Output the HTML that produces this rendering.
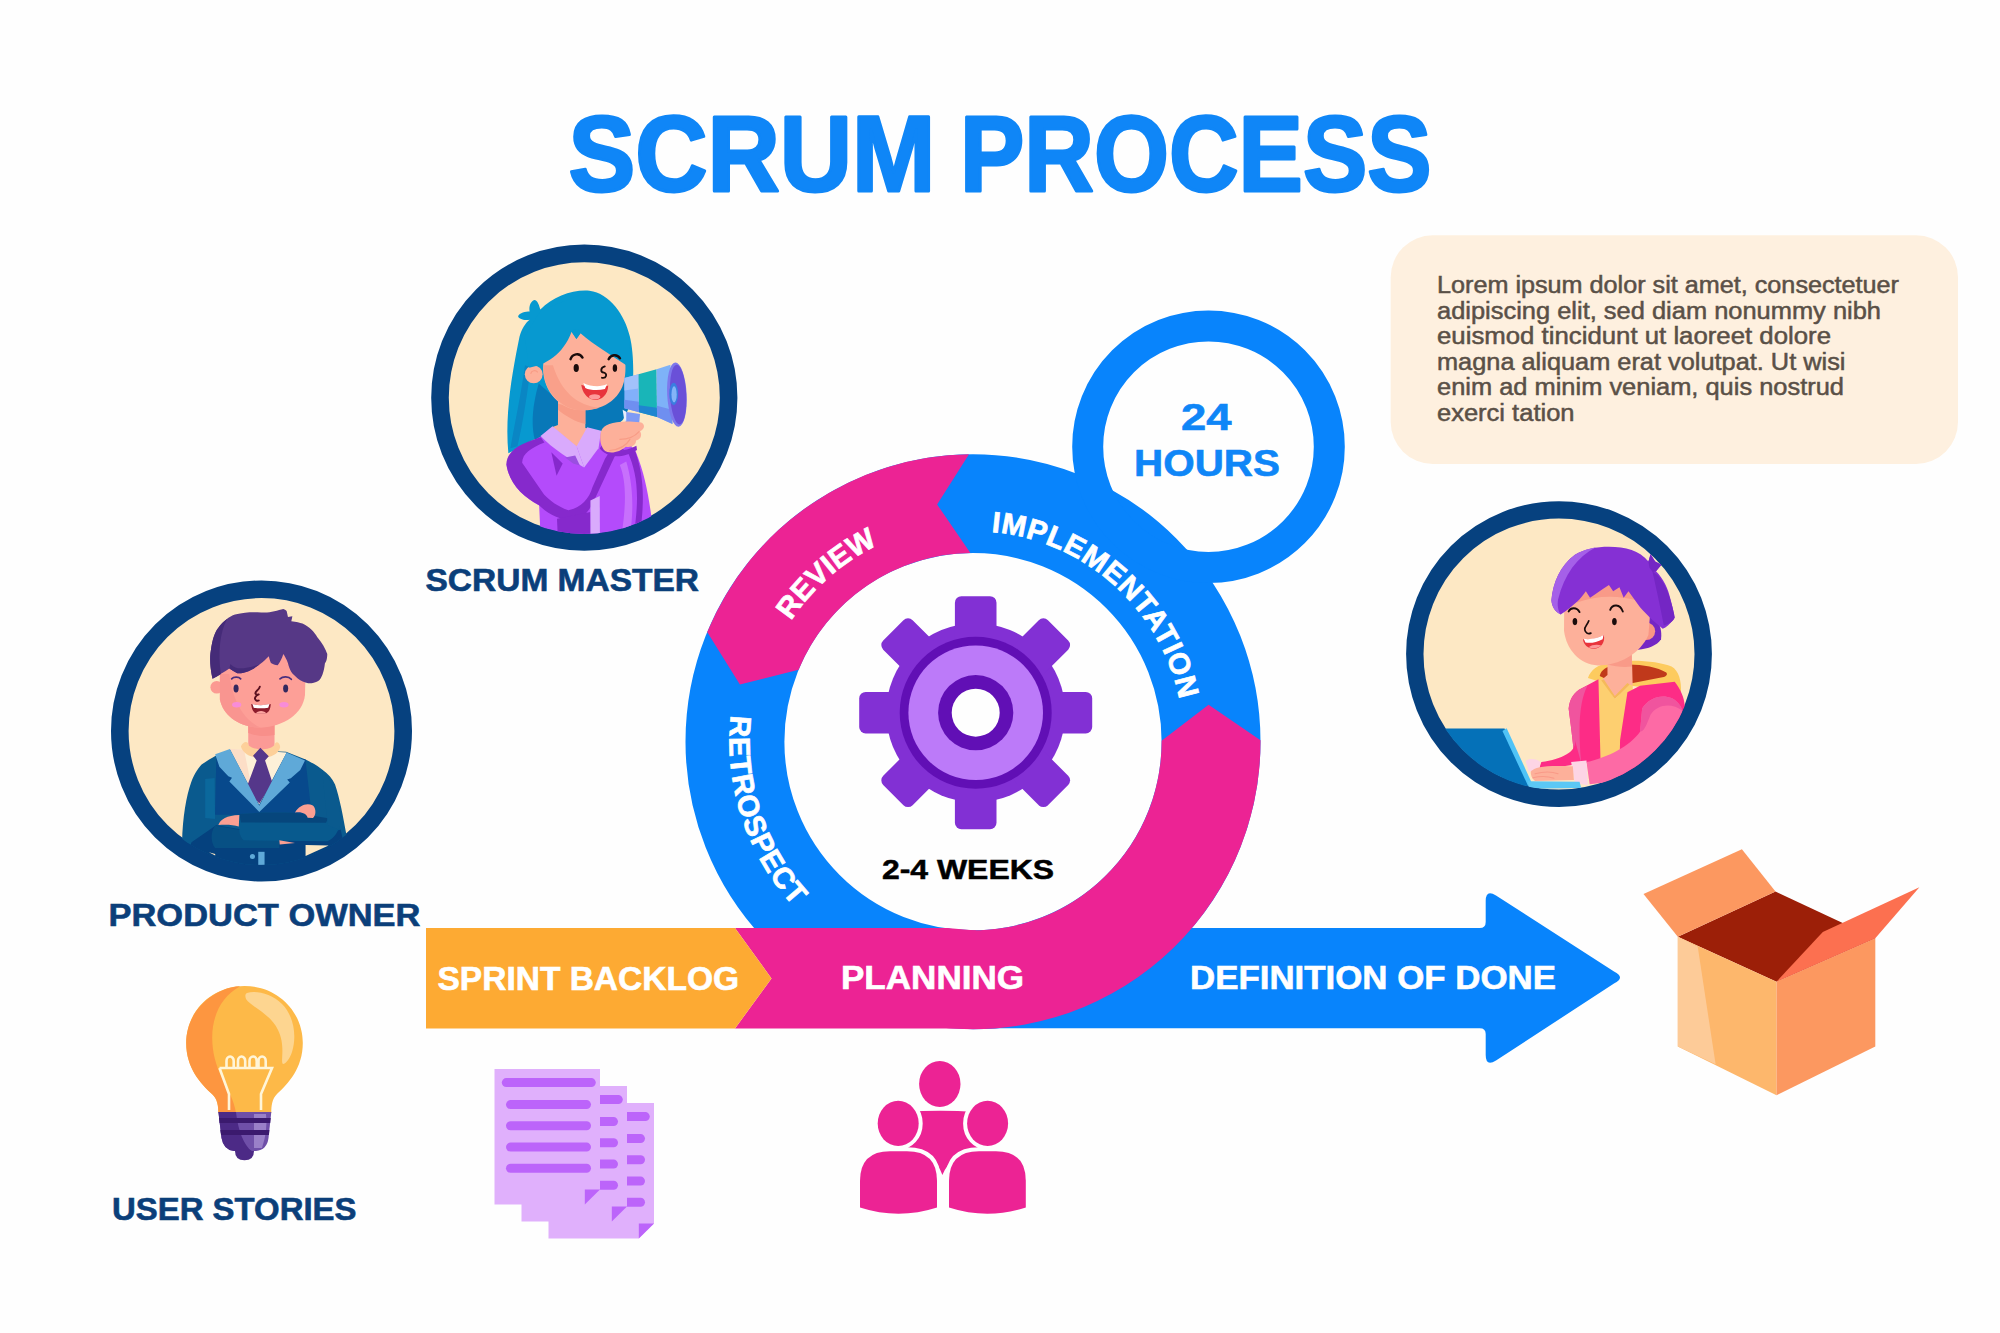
<!DOCTYPE html>
<html lang="en">
<head>
<meta charset="utf-8">
<title>Scrum Process</title>
<style>
html,body{margin:0;padding:0;background:#fff;}
body{width:2000px;height:1333px;overflow:hidden;font-family:"Liberation Sans",sans-serif;}
svg{display:block;}
text{font-family:"Liberation Sans",sans-serif;}
.b{font-weight:700;}
</style>
</head>
<body>
<svg width="2000" height="1333" viewBox="0 0 2000 1333">
<rect width="2000" height="1333" fill="#fefefe"/>
<!-- text box -->
<rect x="1390.7" y="235.2" width="567.3" height="228.8" rx="42" ry="42" fill="#fef0df"/>
<!-- definition of done arrow (blue) -->
<path d="M1100 928 H1479.7 Q1485.7 928 1485.7 922 V901 Q1485.7 889 1496 895.5 L1614 971.5 Q1626 977.5 1614 983.5 L1496 1060.5 Q1485.7 1067 1485.7 1055 V1034 Q1485.7 1028.3 1479.7 1028.3 H985 Z" fill="#0884fc"/>
<!-- ring -->
<circle cx="973.0" cy="741.7" r="238.05" fill="none" stroke="#0884fc" stroke-width="98.90"/>
<circle cx="1208.5" cy="446.7" r="120.8" fill="none" stroke="#0884fc" stroke-width="31"/>
<path d="M969.0 454.2 A287.5 287.5 0 0 0 707.2 632.1 L739.9 684.5 L798.6 669.8 A188.6 188.6 0 0 1 970.4 553.1 L937.1 504.4 Z" fill="#ec2394"/>
<path d="M933.0 1026.4 A287.5 287.5 0 0 0 1260.5 740.2 L1208.6 704.8 L1161.6 740.7 A188.6 188.6 0 0 1 946.8 928.5 L939.8 977.9 Z" fill="#ec2394"/>
<!-- planning bar pink -->
<path d="M735 928 H947 L976 930.5 V1028.5 H735 L771.5 978.5 Z" fill="#ec2394"/>
<!-- sprint backlog orange -->
<path d="M426 928 H735 L771.5 978.5 L735 1028.5 H426 Z" fill="#fdaa33"/>
<!-- avatar circles -->
<circle cx="584.3" cy="397.7" r="144.3" fill="#fde8c4" stroke="#06417f" stroke-width="17.6"/>
<circle cx="261.5" cy="731" r="141.7" fill="#fde8c4" stroke="#06417f" stroke-width="17.6"/>
<circle cx="1559" cy="654.1" r="144.2" fill="#fde8c4" stroke="#06417f" stroke-width="17.4"/>
<defs>
<clipPath id="c1"><circle cx="584.3" cy="397.7" r="136.2"/></clipPath>
<clipPath id="c2"><circle cx="261.5" cy="731" r="134"/></clipPath>
<clipPath id="c3"><circle cx="1559" cy="654.2" r="136"/></clipPath>
</defs>
<!-- SCRUM MASTER girl : coords in zoom space (origin 480,270 scale 1/4.936) -->
<g clip-path="url(#c1)">
<g transform="translate(480 270) scale(0.20259)">
<!-- hair back -->
<path d="M140 905 C120 700 165 480 195 330 C205 290 225 260 245 245 C215 250 190 240 188 228 C195 212 225 205 245 205 C240 180 250 155 268 148 C285 150 292 175 298 195 C360 130 460 95 540 102 C640 115 715 220 740 330 C762 420 760 560 745 640 L720 720 L650 790 L520 800 L380 790 C330 810 250 840 190 880 Z" fill="#0799d0"/>
<path d="M505 640 L745 540 L748 650 L705 740 L640 795 L515 800 Z" fill="#0878b8"/>
<path d="M290 560 C255 680 245 800 290 890 L380 800 L392 650 Z" fill="#0878b8"/>
<path d="M222 470 C205 600 175 740 150 880 L185 870 C215 740 235 600 250 480 Z" fill="#0a86c4"/>
<!-- body -->
<path d="M135 960 C150 900 250 850 300 822 L352 778 L600 800 C680 810 740 850 770 900 C810 1000 830 1100 845 1210 L850 1340 L300 1340 L292 1163 C215 1120 145 1060 130 958 Z" fill="#b44bfb"/>
<!-- neck -->
<path d="M385 640 L520 670 L520 780 L560 786 L477 872 L358 775 L385 765 Z" fill="#fdb09a"/>
<path d="M385 660 L520 690 L520 760 C470 750 420 720 385 690 Z" fill="#f89c86"/>
<!-- collar -->
<path d="M299 820 L358 771 L477 870 L514 975 C450 940 360 885 299 820 Z" fill="#d9aafc"/>
<path d="M529 776 L598 793 L585 880 L514 975 L477 870 Z" fill="#d9aafc"/>
<path d="M420 925 L470 916 L493 965 L460 955 Z" fill="#9a4fe0"/>
<!-- arm dark band -->
<path d="M130 958 C145 1060 215 1120 290 1160 C330 1200 389 1233 451 1234 C513 1230 545 1180 565 1134 L664 922 L712 884 L650 880 L617 932 L555 1072 C540 1130 493 1176 436 1186 C390 1170 345 1140 316 1108 L208 952 C210 905 250 880 318 852 L300 826 C180 862 134 900 130 958 Z" fill="#8629cc"/>
<path d="M352 900 L378 1015 L408 955 Z" fill="#8629cc"/>
<path d="M380 1228 L545 1195 L548 1340 L385 1340 Z" fill="#8629cc"/>
<path d="M545 1138 L591 1115 L592 1340 L545 1340 Z" fill="#d9aafc"/>
<path d="M591 880 C620 920 690 940 775 888 L772 868 C700 905 640 895 602 866 Z" fill="#8629cc"/>
<path d="M690 962 C722 1040 722 1150 700 1300 L742 1300 C762 1150 750 1040 722 945 Z" fill="#c770fc"/>
<path d="M732 905 C772 1000 790 1100 760 1300 L792 1290 C816 1100 802 1000 766 892 Z" fill="#8629cc"/>
<!-- face -->
<circle cx="265" cy="515" r="44" fill="#fdb09a"/>
<path d="M250 512 C255 495 275 492 285 505" fill="none" stroke="#f89c86" stroke-width="6"/>
<path d="M315 440 C295 560 360 665 470 690 C600 705 705 640 716 520 C722 470 716 420 700 395 L500 290 L420 300 Z" fill="#fdb09a"/>
<path d="M315 470 C305 560 360 660 470 690 C520 697 560 690 590 680 C480 670 400 600 360 470 Z" fill="#f9a08a"/>
<!-- fringe -->
<path d="M243 482 C320 470 410 420 452 305 L476 340 L496 312 C560 370 650 420 722 470 L748 482 L735 330 L640 160 L540 105 L300 200 L220 330 Z" fill="#0799d0"/>
<path d="M452 305 L476 340 L496 312 C490 290 470 285 452 305 Z" fill="#0799d0"/>
<!-- brows / eyes / nose -->
<path d="M447 440 C455 415 490 405 506 432" fill="none" stroke="#1a0c0c" stroke-width="12" stroke-linecap="round"/>
<path d="M635 440 C645 418 676 412 691 436" fill="none" stroke="#1a0c0c" stroke-width="12" stroke-linecap="round"/>
<ellipse cx="475" cy="484" rx="13" ry="20" fill="#1a0c0c"/>
<ellipse cx="666" cy="484" rx="11" ry="19" fill="#1a0c0c"/>
<path d="M616 476 C594 482 593 504 612 507 C630 512 624 536 602 532" fill="none" stroke="#1a0c0c" stroke-width="9" stroke-linecap="round"/>
<!-- mouth -->
<path d="M500 566 C540 585 600 585 633 570 C632 620 592 647 560 641 C525 633 504 600 500 566 Z" fill="#e8343c"/>
<path d="M510 558 C550 578 600 578 627 563 L617 588 C580 596 540 593 520 582 Z" fill="#ffffff"/>
<ellipse cx="566" cy="626" rx="28" ry="13" fill="#fd9a9a"/>
<!-- megaphone -->
<path d="M715 700 L790 711 L785 765 L720 757 Z" fill="#7e9af5"/>
<path d="M704 690 L722 700 L722 745 L712 740 Z" fill="#e9eefc"/>
<path d="M712.7 533 L782.5 514 L785 702 L712.7 682.6 Z" fill="#82b0fa"/>
<path d="M712.7 533 L782.5 514 L783 585 L712.7 595 Z" fill="#a2c2fb"/>
<path d="M712.7 640 L784 650 L785 702 L712.7 682.6 Z" fill="#6f8ff0"/>
<path d="M782.5 514 L871.6 490 L874 726 L785 702 Z" fill="#19b5b8"/>
<path d="M784 668 L873 680 L874 726 L785 702 Z" fill="#1f85d0"/>
<path d="M871.6 490 L940 468 L950 760 L874 726 Z" fill="#7eb2f8"/>
<path d="M873 670 L948 690 L950 760 L874 726 Z" fill="#6f8ff0"/>
<ellipse cx="972" cy="615" rx="48" ry="159" transform="rotate(-3 972 615)" fill="#7d78ec"/>
<ellipse cx="978" cy="615" rx="40" ry="148" transform="rotate(-3 978 615)" fill="#6a50d8"/>
<ellipse cx="956" cy="612" rx="22" ry="55" fill="#3a7ee0"/>
<ellipse cx="958" cy="614" rx="13" ry="40" fill="#84b4f8"/>
<!-- hand -->
<g transform="translate(0 -14)">
<path d="M600 805 C612 772 680 752 790 766 C816 771 816 800 790 810 C802 830 792 852 770 856 C772 880 742 892 720 886 C690 912 640 926 612 902 C590 872 590 832 600 805 Z" fill="#fdb09a"/>
<path d="M640 905 C690 900 720 885 740 850 M690 850 C730 850 765 835 785 812" fill="none" stroke="#f89c86" stroke-width="6" stroke-linecap="round"/>
</g>
</g>
</g>
<!-- PRODUCT OWNER : zoom space origin (160,590) scale 1/4.759 -->
<g clip-path="url(#c2)">
<g transform="translate(160 590) scale(0.21013)">
<!-- suit body (teal arms) -->
<path d="M105 1200 C108 1080 125 980 148 916 C165 870 185 845 198 831 C220 815 245 800 263 790 L335 760 L600 770 L690 805 C730 825 755 840 773 856 C800 875 822 900 833 926 C855 990 872 1080 888 1170 L895 1340 L100 1340 Z" fill="#0a5a8e"/>
<path d="M215 900 L260 895 L262 1090 L215 1085 Z" fill="#0b6ea3" opacity="0.7"/>
<!-- torso deep blue -->
<path d="M268 800 L692 806 L722 1070 L262 1070 Z" fill="#07498c"/>
<!-- shirt -->
<path d="M332 756 L603 773 L472 1022 Z" fill="#fdf0d8"/>
<path d="M332 756 L400 760 L440 960 Z" fill="#fbd5c0" opacity="0.7"/>
<!-- neck -->
<path d="M420 620 L545 620 L545 745 C520 775 450 775 420 745 Z" fill="#fb9a96"/>
<path d="M420 640 L545 640 L545 690 C500 700 455 695 420 680 Z" fill="#f88f8a"/>
<!-- collar -->
<path d="M385 745 C395 720 420 715 422 740 C450 765 520 765 545 738 C550 715 570 725 572 748 C562 785 520 800 480 797 C440 800 398 785 385 745 Z" fill="#fdd09a"/>
<!-- tie -->
<path d="M477.6 751 L517.6 791 L500 811 L535 916 L472.6 1016 L410 946 L460 811 L442.6 789 Z" fill="#55378a"/>
<!-- lapels -->
<path d="M262.6 781.3 L282.6 841.3 L325.1 886.3 L342.6 893.8 L330.1 911.3 L472.6 1056.3 L617.6 916.3 L605.1 901.3 L622.6 896.3 L667.6 856.3 L690.1 811.3 L602.6 773.8 L472.6 1026.3 L332.6 756.3 Z" fill="#5fa9d8"/>
<!-- dark bottom -->
<path d="M150 1200 L267 1120 L700 1190 L860 1140 L900 1340 L100 1340 Z" fill="#05417e"/>
<!-- lower forearm -->
<path d="M262 1122 C330 1130 480 1160 568 1188 L568 1228 L262 1228 C240 1200 240 1150 262 1122 Z" fill="#075084"/>
<!-- upper forearm -->
<path d="M377.6 1066 C460 1058 560 1058 647.6 1061 L827.6 1091 C850 1100 858 1125 847.6 1141 C840 1165 820 1185 797.6 1196 L397.6 1191 C385 1180 378 1160 377.6 1146 Z" fill="#085a8e"/>
<path d="M377.6 1066 C460 1058 560 1058 647.6 1061 L800 1086 L790 1108 L385 1106 Z" fill="#06467c"/>
<!-- right upper arm over -->
<path d="M773 870 C815 900 840 960 850 1020 C860 1070 865 1110 850 1140 L800 1120 C790 1050 780 950 773 870 Z" fill="#0a5a8e"/>
<!-- cream gaps -->
<path d="M692.6 1213.6 L802.6 1216 L692.6 1266 Z" fill="#fde8c4"/>
<path d="M232.6 1248.5 L262.6 1256 L262.6 1263.5 Z" fill="#fde8c4"/>
<!-- hands -->
<path d="M277.6 1118.6 C287.6 1091.3 317.6 1073.6 377.6 1071.2 L375 1126 C347.6 1116 307.6 1116 277.6 1118.6 Z" fill="#fb9f92"/>
<path d="M642.6 1058.6 C662.6 1026 697.6 1011 727.6 1026 C745 1041 742.6 1076 727.6 1085 L702.6 1083.6 C697.6 1066 677.6 1053.6 642.6 1058.6 Z" fill="#fb9f92"/>
<path d="M567.6 1191 L642.6 1203.6 L570 1211 Z" fill="#fb9f92"/>
<!-- buttons -->
<circle cx="440" cy="1268.5" r="12" fill="#5fa9d8"/>
<rect x="467.6" y="1246" width="30" height="62" fill="#5fa9d8"/>
<!-- face -->
<circle cx="270" cy="463" r="30" fill="#fb9a92"/>
<path d="M285 300 L285 520 C300 600 380 655 480 655 C590 650 680 590 690 500 L695 300 Z" fill="#fd9f97"/>
<path d="M285 400 L285 520 C300 600 380 655 480 655 C420 630 350 560 330 400 Z" fill="#f99590"/>
<!-- hair -->
<path d="M250 422 C238 370 236 320 242 288 C250 230 262 200 277 181 C300 150 330 125 357 117 C400 105 440 105 464 106 C500 108 520 108 544 101 C560 97 575 92 587 90 C595 92 600 96 603 101 L609 128 L630 125 L625 149 C650 152 665 156 678 160 C710 175 735 200 748 224 C770 250 788 280 796 305 C796 330 790 345 785 348 C780 390 770 420 753 433 C738 442 720 445 705 444 C688 440 670 432 657 422 C645 412 632 400 625 390 C618 378 612 362 609 348 C602 330 594 315 587 305 C580 325 572 345 560 358 C548 358 536 352 528 347 C524 338 520 325 518 315 C505 328 490 342 475 353 C455 368 430 385 410 390 C395 396 380 398 368 396 C355 390 342 382 330 374 C305 390 275 410 250 422 Z" fill="#563886"/>
<path d="M250 422 C238 370 236 320 242 288 C250 230 262 200 277 181 C290 163 305 148 320 137 C285 200 275 300 290 400 C275 410 262 417 250 422 Z" fill="#452b78"/>
<path d="M330 374 C342 382 355 390 368 396 C380 398 395 396 410 390 C430 385 455 368 475 353 C440 365 400 375 370 372 C355 368 342 360 335 352 Z" fill="#452b78"/>
<!-- brows eyes -->
<path d="M341 423 C350 412 375 412 384 423" fill="none" stroke="#4a2f7e" stroke-width="8" stroke-linecap="round"/>
<path d="M571 423 C585 409 612 410 625 425" fill="none" stroke="#4a2f7e" stroke-width="8" stroke-linecap="round"/>
<ellipse cx="362" cy="469" rx="12" ry="19" fill="#33285e"/>
<ellipse cx="598" cy="469" rx="12" ry="19" fill="#33285e"/>
<ellipse cx="365" cy="546" rx="22" ry="13" fill="#f88cd8"/>
<ellipse cx="590" cy="546" rx="22" ry="13" fill="#f88cd8"/>
<path d="M475 460 C470 478 452 480 454 493 C458 500 466 498 470 497 C452 504 448 518 456 524 C462 528 468 527 470 526" fill="none" stroke="#5a1020" stroke-width="9" stroke-linecap="round" stroke-linejoin="round"/>
<!-- mouth -->
<path d="M434 543 Q480 553 527 543 C526 570 516 585 500 589 L460 589 C446 585 436 570 434 543 Z" fill="#8c1c2c"/>
<path d="M440 543 Q480 553 521 543 L515 560 Q480 566 446 560 Z" fill="#ffffff"/>
<path d="M456 589 C462 572 500 572 506 589 Z" fill="#fca5a0"/>
</g>
</g>
<!-- DEVELOPER : zoom space origin (1430,530) scale 1/4.761 -->
<g clip-path="url(#c3)">
<g transform="translate(1430 530) scale(0.21004)">
<!-- hair back -->
<path d="M1000 380 C1060 400 1110 440 1100 520 C1080 550 1040 565 990 570 L960 520 Z" fill="#7426c4"/>
<!-- hood -->
<path d="M752 705 C765 665 800 640 850 632 C960 612 1090 625 1150 650 C1185 670 1198 720 1195 775 L1100 760 L800 720 Z" fill="#fdcb5e"/>
<path d="M808 695 C815 665 840 650 880 645 C960 632 1070 645 1125 678 C1135 690 1120 700 1100 702 L960 730 L850 715 Z" fill="#c0391b"/>
<!-- neck -->
<path d="M845 590 L960 560 L965 740 L880 800 L815 715 L845 690 Z" fill="#fdb09a"/>
<path d="M845 600 L960 575 L962 650 C920 655 880 650 845 640 Z" fill="#f99a88"/>
<!-- shirt -->
<path d="M800 712 L820 712 L880 805 L950 735 L965 740 L975 1130 L800 1130 Z" fill="#fdcf70"/>
<path d="M815 715 L880 805 L950 735 L940 728 L880 790 L828 712 Z" fill="#f5b95a"/>
<!-- jacket left panel -->
<path d="M660 850 C665 800 690 770 720 755 L802 710 L812 1105 L690 1115 C680 1000 670 930 660 850 Z" fill="#fd2c86"/>
<path d="M660 850 C665 800 690 770 720 755 L750 740 C720 800 700 900 720 1110 L690 1115 C680 1000 670 930 660 850 Z" fill="#f0549e"/>
<!-- jacket right panel -->
<path d="M940 772 L1000 742 L1165 722 C1195 760 1210 800 1212 830 L1230 1000 L1100 1200 L900 1200 L905 1000 Z" fill="#fd2c86"/>
<!-- sleeve (lighter) -->
<path d="M1010 850 C1040 800 1100 780 1150 800 C1190 820 1210 860 1205 900 L1130 1100 C1050 1160 900 1200 760 1210 L745 1105 C850 1080 950 1030 1000 960 Z" fill="#fd6aa5"/>
<path d="M1010 850 C1040 800 1100 780 1150 800 C1175 812 1195 835 1202 860 C1150 820 1080 830 1050 880 C1030 930 1020 960 1000 960 Z" fill="#f0549e"/>
<!-- left sleeve forearm -->
<path d="M690 1000 C700 1050 640 1090 530 1105 L520 1135 C600 1130 680 1120 720 1110 Z" fill="#fd2c86"/>
<!-- cuffs -->
<path d="M672 1105 L745 1098 L752 1215 L690 1205 Z" fill="#fdd5e5"/>
<path d="M455 1100 C470 1085 510 1088 525 1105 L520 1150 L470 1150 Z" fill="#fdd5e5"/>
<!-- hands -->
<path d="M480 1150 C500 1125 560 1120 680 1125 L685 1190 L500 1195 C485 1185 478 1165 480 1150 Z" fill="#fdb09a"/>
<path d="M500 1160 C540 1150 580 1150 610 1160 M490 1180 C530 1170 560 1172 590 1182" fill="none" stroke="#f99a88" stroke-width="5" stroke-linecap="round"/>
<!-- laptop -->
<path d="M40 945 L355 945 L472 1215 L300 1340 L0 1340 Z" fill="#0571b8"/>
<path d="M345 957 L365 944 L482 1198 L466 1216 Z" fill="#4fc3f7"/>
<path d="M466 1196 L712 1198 L720 1228 L470 1232 Z" fill="#5bc8f5"/>
<!-- face -->
<circle cx="1030" cy="482" r="42" fill="#f99584"/>
<path d="M640 240 L638 480 C650 570 710 640 800 645 C900 645 1000 590 1040 500 L1060 240 Z" fill="#fdb09a"/>
<path d="M700 240 L1000 240 L1000 340 C900 310 800 310 700 345 Z" fill="#f99a88"/>
<!-- hair top -->
<path d="M578 335 C585 250 620 170 690 118 C760 75 880 70 960 95 C990 105 1020 125 1040 150 L1050 115 L1072 150 L1102 165 L1076 196 C1110 230 1135 280 1145 330 C1155 370 1165 400 1160 425 C1140 450 1125 465 1108 470 L1060 430 C1040 410 1015 385 1000 368 L945 292 L922 322 L902 272 L872 292 L852 262 C820 282 790 305 762 322 L742 292 C730 310 715 328 700 342 C680 360 650 385 622 402 C595 390 580 365 578 335 Z" fill="#8530d4"/>
<path d="M578 335 C585 250 620 170 690 118 C720 100 755 88 790 82 C700 130 640 210 610 330 C605 360 610 385 622 402 C595 390 580 365 578 335 Z" fill="#a560e8"/>
<path d="M1059 198 C1102 219 1140 289 1166 417 C1156 439 1134 449 1113 455 C1102 396 1086 316 1059 198 Z" fill="#7426c4"/>
<path d="M1040 150 L1050 115 L1072 150 L1102 165 L1076 196 L1060 200 L1045 180 Z" fill="#7426c4"/>
<!-- brows eyes nose -->
<path d="M660 388 C668 368 700 366 712 391" fill="none" stroke="#1a0c0c" stroke-width="9" stroke-linecap="round"/>
<path d="M858 380 C868 352 905 350 918 388" fill="none" stroke="#1a0c0c" stroke-width="9" stroke-linecap="round"/>
<ellipse cx="690" cy="436" rx="11" ry="17" fill="#1a0c0c"/>
<ellipse cx="878" cy="436" rx="11" ry="17" fill="#1a0c0c"/>
<path d="M756 432 C750 452 734 458 737 476 C740 492 754 496 766 491" fill="none" stroke="#1a0c0c" stroke-width="8" stroke-linecap="round"/>
<!-- mouth -->
<path d="M728 520 C760 525 800 515 828 500 C835 540 810 565 780 565 C750 565 732 545 728 520 Z" fill="#e8343c"/>
<path d="M732 518 C762 524 800 514 826 500 L822 520 C795 535 765 540 740 536 Z" fill="#ffffff"/>
<path d="M755 558 C770 545 800 543 815 550 C805 562 775 568 755 558 Z" fill="#fd9a9a"/>
</g>
</g>
<!-- gear -->
<g transform="translate(975.7 712.7)">
<g fill="#8230d4">
<circle r="89.5"/>
<g id="tooth"><rect x="-20.8" y="-116.5" width="41.6" height="50" rx="6.5"/></g>
<use href="#tooth" transform="rotate(45)"/><use href="#tooth" transform="rotate(90)"/><use href="#tooth" transform="rotate(135)"/>
<use href="#tooth" transform="rotate(180)"/><use href="#tooth" transform="rotate(225)"/><use href="#tooth" transform="rotate(270)"/><use href="#tooth" transform="rotate(315)"/>
</g>
<circle r="76" fill="#610fb5"/>
<circle r="67.3" fill="#bc7af9"/>
<circle r="37.6" fill="#610fb5"/>
<circle r="24" fill="#fefefe"/>
</g>
<!-- documents -->
<g id="docs">
<use href="#doc" transform="translate(54 34)"/><use href="#doc" transform="translate(27 17)"/>
<g id="doc">
<path d="M494.5 1069 H600 V1189.6 L584.8 1204.6 H494.5 Z" fill="#e0b0fc"/>
<path d="M584.8 1189.6 H600 L584.8 1204.6 Z" fill="#bc64fa"/>
<g fill="#bc64fa">
<rect x="501.8" y="1078.1" width="94" height="9" rx="4.5"/>
<rect x="506" y="1100.1" width="85" height="9" rx="4.5"/>
<rect x="506" y="1121.3" width="85" height="9" rx="4.5"/>
<rect x="506" y="1142.6" width="85" height="9" rx="4.5"/>
<rect x="506" y="1163.8" width="85" height="9" rx="4.5"/>
</g>
</g>
</g>
<!-- people -->
<g fill="#ec2394">
<path d="M905 1112 Q940 1109.5 976 1112 L978 1150 Q950 1155 942.4 1175 Q936 1155 905 1150 Z"/>
<ellipse cx="939.8" cy="1083.9" rx="20.7" ry="23"/>
<g stroke="#fefefe" stroke-width="8" paint-order="stroke">
<ellipse cx="898.2" cy="1123.4" rx="20.5" ry="22.6"/>
<ellipse cx="987.6" cy="1123.4" rx="20.5" ry="22.6"/>
<path d="M860 1181 Q860 1151.2 890 1151.2 H907 Q937 1151.2 937 1181 V1207.5 Q898.5 1220 860 1207.5 Z"/>
<path d="M949 1181 Q949 1151.2 979 1151.2 H996 Q1025.8 1151.2 1025.8 1181 V1207.5 Q987.4 1220 949 1207.5 Z"/>
</g>
</g>
<!-- box -->
<g>
<path d="M1677.8 936.7 L1775.5 891.6 L1875.3 938.2 L1776.5 981.7 Z" fill="#9c1f08"/>
<path d="M1643.5 894.1 L1741.9 849.3 L1775.5 891.6 L1677.8 936.7 Z" fill="#fc9860"/>
<path d="M1677.8 936.7 L1776.5 981.7 V1095.2 L1677.8 1046.4 Z" fill="#fdb76c"/>
<path d="M1677.8 936.7 L1697.7 946.6 L1715.6 1064.3 L1677.8 1046.4 Z" fill="#fdcb98"/>
<path d="M1776.5 981.7 L1875.3 938.2 V1046.4 L1776.5 1095.2 Z" fill="#fc9860"/>
<path d="M1776.5 981.7 L1822.8 931.9 L1919.4 887.2 L1875.3 938.2 Z" fill="#fc7050"/>
</g>
<!-- bulb -->
<g>
<path d="M244.5 986 C278 986 302.8 1012 302.8 1043 C302.8 1068 288 1084 277 1094 C272 1099 271.3 1106 271.3 1113 H218.4 C218.4 1106 217.5 1099 212 1094 C201 1084 186.2 1068 186.2 1043 C186.2 1012 211 986 244.5 986 Z" fill="#fdb948"/>
<path d="M240 986.3 C213 988 186.2 1011 186.2 1043 C186.2 1068 201 1084 212 1094 C217.5 1099 218.4 1106 218.4 1113 H236 C234 1100 228 1090 222 1078 C206 1046 208 1004 240 986.3 Z" fill="#fd9640"/>
<path d="M247 993 C256 990 272 994 282 1004 C294 1016 297 1036 292 1052 C290 1058 286 1064 283 1064 C280 1062 286 1046 278 1030 C271 1014 250 1006 246 999 C245 996 245 994 247 993 Z" fill="#fdd590"/>
<path d="M219.5 1068 H272 L261 1094 V1110 M229 1110 V1094 L219.5 1068" fill="none" stroke="#fff5d8" stroke-width="2.6"/>
<path d="M226.5 1067 V1061 a3.6 4.5 0 0 1 7.2 0 V1067 M238 1067 V1061 a3.6 4.5 0 0 1 7.2 0 V1067 M249.5 1067 V1061 a3.6 4.5 0 0 1 7.2 0 V1067 M258.5 1067 V1061 a3.6 4.5 0 0 1 7.2 0 V1067" fill="none" stroke="#fff5d8" stroke-width="2.6"/>
<path d="M218.4 1112 H271.3 L268.5 1138 Q267 1150 256 1151 H234 Q223.5 1150 221.5 1138 Z" fill="#6f4fa8"/>
<path d="M218.4 1112 H236 C238 1130 244 1146 252 1151 H234 Q223.5 1150 221.5 1138 Z" fill="#4c2a86"/>
<path d="M254 1114 H266 Q268 1130 262 1148 H254 Z" fill="#9a80c8"/>
<g fill="#3b1a6e"><path d="M219 1118 H270.7 L270.2 1123 H219.6 Z"/><path d="M220.4 1130 H269.4 L268.9 1135 H221 Z"/></g>
<path d="M235 1151 H254 Q254 1160.3 244.5 1160.3 Q235 1160.3 235 1151 Z" fill="#4c2a86"/>
</g>
<!-- texts -->
<g class="b" font-weight="700">
<g font-size="108" fill="#0f86f7" stroke="#0f86f7" stroke-width="3" stroke-linejoin="round"><text x="568.5" y="191" textLength="367" lengthAdjust="spacingAndGlyphs">SCRUM</text><text x="960" y="191" textLength="471.5" lengthAdjust="spacingAndGlyphs">PROCESS</text></g>
<g fill="#0b3f7a" stroke="#0b3f7a" stroke-width="0.6" font-size="31.5">
<text x="425.5" y="591" textLength="273.5" lengthAdjust="spacingAndGlyphs">SCRUM MASTER</text>
<text x="108.5" y="926" textLength="312" lengthAdjust="spacingAndGlyphs">PRODUCT OWNER</text>
<text x="112" y="1219.6" textLength="244.5" lengthAdjust="spacingAndGlyphs">USER STORIES</text>
</g>
<g fill="#fff" stroke="#fff" stroke-width="0.6" font-size="32.5">
<text x="437.5" y="989.6" textLength="301.5" lengthAdjust="spacingAndGlyphs">SPRINT BACKLOG</text>
<text x="841" y="989.4" textLength="183" lengthAdjust="spacingAndGlyphs">PLANNING</text>
<text x="1190" y="989.4" textLength="366" lengthAdjust="spacingAndGlyphs">DEFINITION OF DONE</text>
</g>
<text x="882" y="879" font-size="28" fill="#000" stroke="#000" stroke-width="0.5" textLength="172" lengthAdjust="spacingAndGlyphs">2-4 WEEKS</text>
<g fill="#0f86f7" stroke="#0f86f7" stroke-width="0.6" font-size="36.5">
<text x="1181" y="430.2" textLength="50.5" lengthAdjust="spacingAndGlyphs">24</text>
<text x="1134" y="476.2" textLength="146" lengthAdjust="spacingAndGlyphs">HOURS</text>
</g>
</g>
<!-- paragraph -->
<g fill="#5a5047" font-size="23.5" stroke="#5a5047" stroke-width="0.5">
<text x="1437" y="293.2" textLength="462" lengthAdjust="spacingAndGlyphs">Lorem ipsum dolor sit amet, consectetuer</text>
<text x="1437" y="318.6" textLength="444" lengthAdjust="spacingAndGlyphs">adipiscing elit, sed diam nonummy nibh</text>
<text x="1437" y="344.1" textLength="394" lengthAdjust="spacingAndGlyphs">euismod tincidunt ut laoreet dolore</text>
<text x="1437" y="369.5" textLength="408.5" lengthAdjust="spacingAndGlyphs">magna aliquam erat volutpat. Ut wisi</text>
<text x="1437" y="395.2" textLength="407" lengthAdjust="spacingAndGlyphs">enim ad minim veniam, quis nostrud</text>
<text x="1437" y="420.6" textLength="137.5" lengthAdjust="spacingAndGlyphs">exerci tation</text>
</g>
<defs><path id="pRev" d="M791.0 620.8 A218.5 218.5 0 0 1 877.9 545.0" fill="none"/><path id="pImp" d="M991.3 532.0 A210.5 210.5 0 0 1 1179.2 699.4" fill="none"/><path id="pRet" d="M730.9 715.4 A243.5 243.5 0 0 0 793.5 906.2" fill="none"/></defs>
<text font-size="29.5" font-weight="700" fill="#fff" stroke="#fff" stroke-width="0.7" textLength="116.7" lengthAdjust="spacing"><textPath href="#pRev" textLength="116.7" lengthAdjust="spacing">REVIEW</textPath></text>
<text font-size="29.5" font-weight="700" fill="#fff" stroke="#fff" stroke-width="0.7" textLength="269.7" lengthAdjust="spacing"><textPath href="#pImp" textLength="269.7" lengthAdjust="spacing">IMPLEMENTATION</textPath></text>
<text font-size="29.5" font-weight="700" fill="#fff" stroke="#fff" stroke-width="0.7" textLength="207.0" lengthAdjust="spacing"><textPath href="#pRet" textLength="207.0" lengthAdjust="spacing">RETROSPECT</textPath></text></svg>
</body>
</html>
